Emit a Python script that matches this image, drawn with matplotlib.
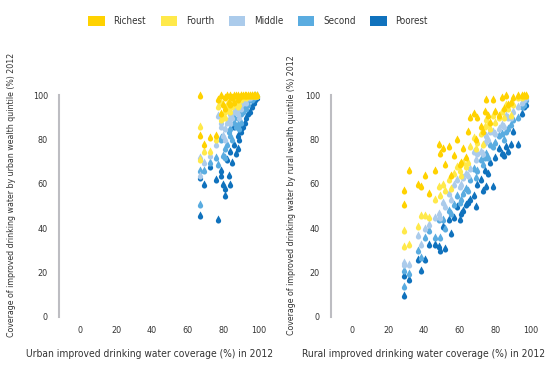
import numpy as np
import matplotlib.pyplot as plt
from matplotlib.path import Path
from matplotlib.patches import Patch

plt.rcParams['font.family'] = ['DejaVu Sans']
plt.rcParams['font.stretch'] = 'condensed'

# ----- Data ----- #
quintiles = ["Richest", "Fourth", "Middle", "Second", "Poorest"]
colors = ["#FFD200", "#FFE94A", "#ABCBEB", "#5AACE0", "#1072BD"]

# urban: coverage, then quintile coverage (richest -> poorest)
urban_x = [67, 67, 69, 72.6, 76, 77, 79, 80, 81, 82, 83, 84, 85, 86, 87, 88, 89, 90,
           91, 92, 93, 94, 95, 96, 97, 84, 81, 88, 90, 79, 86, 98, 99]
urban_richest = [100, 82, 78, 81, 82, 98, 100, 96, 99, 100, 97, 100, 99, 100, 100, 100, 99, 100,
                 100, 100, 100, 100, 100, 100, 100, 96, 94, 98, 100, 92, 97, 100, 100]
urban_fourth = [86, 71, 75, 75, 80, 95, 97, 90, 93, 96, 94, 98, 95, 99, 97, 98, 96, 99,
                99, 100, 99, 100, 100, 100, 100, 93, 90, 95, 98, 89, 96, 100, 100]
urban_middle = [72, 64, 70, 73, 78, 91, 88, 82, 85, 88, 89, 92, 90, 95, 93, 94, 90, 96,
                97, 98, 97, 99, 99, 100, 100, 88, 80, 92, 94, 86, 93, 100, 100]
urban_second = [66, 51, 66, 70, 72, 69, 80, 73, 76, 78, 84, 85, 80, 88, 86, 90, 85, 92,
                93, 95, 94, 96, 98, 98, 99, 82, 72, 87, 88, 81, 90, 100, 100]
urban_poorest = [63, 46, 60, 68, 62, 44, 66, 60, 55, 71, 64, 75, 70, 78, 74, 76, 80, 84,
                 86, 88, 90, 92, 93, 95, 97, 60, 58, 82, 85, 64, 86, 98, 99]

rural_x = [29, 29, 31.5, 37, 38.5, 40.5, 43, 46, 48.5, 49, 51, 52, 54, 55, 57, 58.5, 61, 63.5,
           65, 66, 68, 69, 70, 72, 73, 75, 76, 77, 79, 80, 82, 84, 85, 87, 89, 90, 93, 95,
           96, 97, 74, 62, 60, 86]
rural_richest = [57, 51, 66, 60, 59, 64, 56, 66, 78, 74, 76, 69, 77, 64, 73, 80, 70, 72,
                 84, 90, 92, 80, 90, 86, 84, 98, 91, 88, 98, 93, 91, 99, 94, 96, 97, 99, 100, 100,
                 100, 100, 93, 76, 69, 100]
rural_fourth = [39, 32, 33, 41, 46, 46, 45, 53, 59, 55, 60, 57, 62, 58, 65, 68, 64, 68,
                70, 77, 81, 76, 79, 83, 78, 89, 87, 85, 91, 88, 90, 93, 90, 94, 91, 96, 99, 99,
                100, 100, 86, 70, 66, 96]
rural_middle = [25, 24, 24, 37, 33, 40, 42, 45, 47, 45, 52, 50, 56, 53, 60, 62, 60, 65,
                64, 67, 75, 71, 74, 75, 74, 82, 80, 84, 84, 83, 85, 87, 86, 90, 90, 93, 95, 97,
                98, 99, 79, 63, 59, 91]
rural_second = [21, 14, 20, 30, 27, 36, 39, 36, 44, 36, 44, 40, 48, 47, 51, 55, 53, 58,
                57, 62, 67, 63, 66, 71, 69, 74, 72, 78, 77, 79, 82, 83, 80, 85, 87, 89, 90, 95,
                96, 98, 72, 56, 52, 84]
rural_poorest = [19, 10, 17, 26, 21, 26, 33, 33, 32, 30, 41, 31, 44, 38, 45, 50, 47, 51,
                 52, 53, 55, 50, 60, 62, 57, 59, 65, 70, 59, 72, 76, 74, 73, 75, 78, 84, 78, 92,
                 95, 96, 66, 48, 44, 77]

ticks = [0, 20, 40, 60, 80, 100]

# ----- Drop-shaped marker ----- #
r, cy = 0.65, -0.35
a = np.degrees(np.arccos(r / (1.0 - cy)))
ang = np.radians(np.linspace(90 - a, -270 + a, 30))
verts = [(0, 1.0)] + [(r * np.cos(t), cy + r * np.sin(t)) for t in ang] + [(0, 1.0)]
drop = Path(verts, closed=True)

fig = plt.figure(figsize=(5.6, 3.76), dpi=100)

panels = [
    (urban_x, [urban_richest, urban_fourth, urban_middle, urban_second, urban_poorest], 59,
     "Urban improved drinking water coverage (%) in 2012", 150,
     "Coverage of improved drinking water by urban wealth quintile (%) 2012", 12),
    (rural_x, [rural_richest, rural_fourth, rural_middle, rural_second, rural_poorest], 331,
     "Rural improved drinking water coverage (%) in 2012", 424,
     "Coverage of improved drinking water by rural wealth quintile (%) 2012", 292),
]

for xs, series, left_px, xlab, xlab_px, ylab, ylab_px in panels:
    # axes: x -12..104, y -3..103 ; 1.79 px per unit in x, 2.22 in y
    w = 116 * 1.785
    h = 106 * 2.22
    bottom_px = 317 + 3 * 2.22
    ax = fig.add_axes([left_px / 560, (376 - bottom_px) / 376, w / 560, h / 376])
    for vals, col in reversed(list(zip(series, colors))):
        ax.scatter(xs, vals, s=34, marker=drop, color=col, linewidths=0, zorder=3)
    ax.set_xlim(-12, 104)
    ax.set_ylim(-3, 103)
    for s in ["top", "right", "bottom"]:
        ax.spines[s].set_visible(False)
    ax.spines["left"].set_bounds(0, 100)
    ax.spines["left"].set_color("#BDBDC2")
    ax.spines["left"].set_linewidth(1.5)
    ax.set_xticks(ticks)
    ax.set_yticks(ticks)
    ax.set_yticks([0, 100], minor=True)
    ax.tick_params(axis="both", which="major", length=0, labelsize=6.5, colors="#333333")
    ax.tick_params(axis="x", pad=2)
    ax.tick_params(axis="y", pad=8)
    ax.tick_params(axis="y", which="minor", direction="in", length=4, width=1.5, color="#BDBDC2")
    fig.text(xlab_px / 560, 1 - 354 / 376, xlab, ha="center", va="center", fontsize=7.4, color="#333333")
    fig.text(ylab_px / 560, 1 - 195 / 376, ylab, ha="center", va="center", rotation=90,
             fontsize=6.3, color="#333333")

handles = [Patch(facecolor=c, edgecolor="none", label=q) for q, c in zip(quintiles, colors)]
fig.legend(handles=handles, loc="center", bbox_to_anchor=(258 / 560, 1 - 21 / 376), ncol=5,
           frameon=False, fontsize=7, handlelength=1.7, handleheight=1.2,
           handletextpad=0.9, columnspacing=1.5, labelcolor="#333333")

fig.savefig("out.png", dpi=100)
